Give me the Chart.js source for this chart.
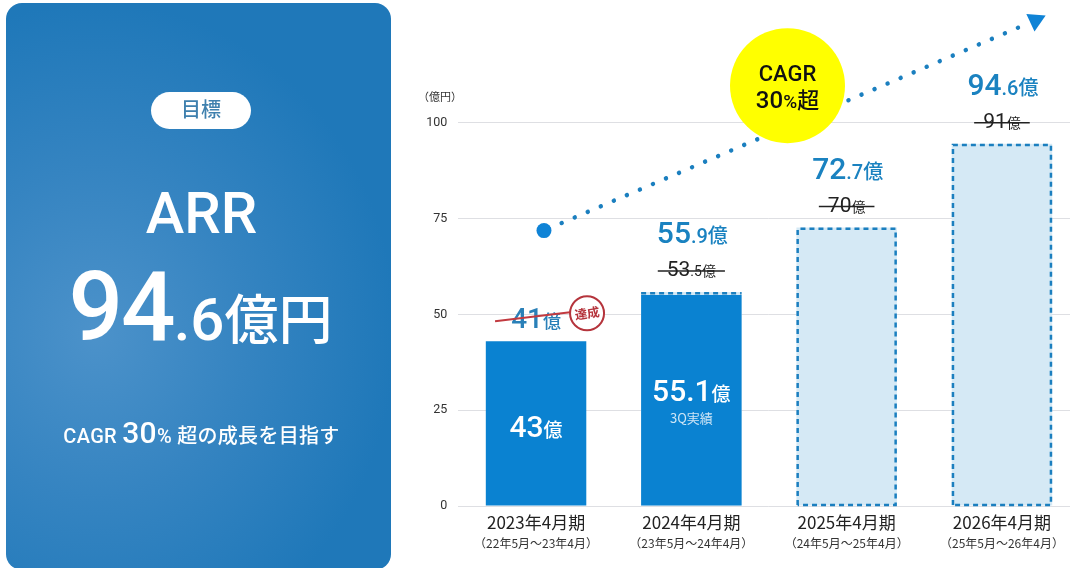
<!DOCTYPE html>
<html lang="ja">
<head>
<meta charset="utf-8">
<title>ARR</title>
<script src="https://cdn.jsdelivr.net/npm/chart.js@4"></script>
<style>
  html, body { margin: 0; padding: 0; background: #fff; width: 1070px; height: 568px; overflow: hidden; }
  body { position: relative; font-family: Roboto, "Noto Sans CJK JP", "Noto Sans", sans-serif; }
  #wrap { position: absolute; left: 0; top: 0; width: 1070px; height: 568px; overflow: hidden; }
  #panel {
    position: absolute; left: 6px; top: 3px; width: 385px; height: 567px; border-radius: 16px;
    background: radial-gradient(ellipse 300px 330px at 90px 330px, #4c92ca 0%, #3584c1 50%, #1f78b9 100%);
    background-color: #1c75b7; color: #fff; text-align: center; z-index: 2;
  }
  #panel div { position: absolute; left: 3px; width: 100%; white-space: nowrap; }
  #pill { left: 145px !important; width: 100px !important; top: 89px; height: 37px; line-height: 36px; border-radius: 19px;
    background: #fff; color: #3f80ae; font-size: 20px; font-weight: 500; }
  #arr { top: 170px; font-size: 58px; line-height: 80px; font-weight: 500; }
  #goal { top: 244px; line-height: 120px; font-size: 54px; font-weight: 500; left: 2px !important; }
  #goal b { font-size: 96px; font-weight: 500; letter-spacing: -2px; }
  #goal i { font-style: normal; font-size: 60px; }
  #note { top: 408px; line-height: 44px; font-size: 20px; font-weight: 500; letter-spacing: .3px; }
  #note b { font-size: 30px; font-weight: 500; }
  canvas { position: absolute; left: 0; top: 0; }
</style>
</head>
<body>
<div id="wrap">
  <div id="panel">
    <div id="pill">目標</div>
    <div id="arr">ARR</div>
    <div id="goal"><b>94</b><i>.6</i>億円</div>
    <div id="note">CAGR <b>30</b>% 超の成長を目指す</div>
  </div>
  <canvas id="chartArr" width="1100" height="568"></canvas>
</div>
<script>
// Fiscal periods and their sub labels
const periods = ["2023年4月期", "2024年4月期", "2025年4月期", "2026年4月期"];
const spans = ["（22年5月～23年4月）", "（23年5月～24年4月）", "（24年5月～25年4月）", "（25年5月～26年4月）"];

// ARR in 億円
const actual = [43, 55.1, null, null];
const target = [null, 55.9, 72.7, 94.6];
const raisedLabels = ["", "55.9", "72.7", "94.6"];
const oldLabels = ["41", "53.5", "70", "91"];
const insideLabels = ["43", "55.1", "", ""];
const yTicks = [0, 25, 50, 75, 100];

// Growth arrow, x in period slots
const trendX = [0.051, 3.116];
const trendY = [71.9, 125.1];
const arrowX = [3.216];
const arrowY = [126.8];

const fontName = 'Roboto, "Noto Sans CJK JP", "Noto Sans", sans-serif';
const cjkFont = '"Noto Sans CJK JP", "Noto Sans", sans-serif';

function drawRuns(ctx, runs, cx, y, color, weight) {
  const w8 = weight || 500;
  ctx.fillStyle = color;
  ctx.textAlign = "left";
  ctx.textBaseline = "alphabetic";
  let w = 0;
  runs.forEach(function (r) {
    ctx.font = w8 + " " + r[1] + "px " + fontName;
    w += ctx.measureText(r[0]).width;
  });
  let x = cx - w / 2;
  runs.forEach(function (r) {
    ctx.font = w8 + " " + r[1] + "px " + fontName;
    ctx.fillText(r[0], x, y);
    x += ctx.measureText(r[0]).width;
  });
  return w;
}

// "55.9" -> big integer part, smaller fraction, unit
function valueRuns(text, big, small) {
  const parts = text.split(".");
  const runs = [[parts[0], big]];
  if (parts[1]) runs.push(["." + parts[1], small]);
  runs.push(["億", small]);
  return runs;
}

const labelPlugin = {
  id: "labelPlugin",
  afterDatasetsDraw(chart) {
    const ctx = chart.ctx;
    const xs = chart.scales.x;
    const ys = chart.scales.y;
    const base = ys.getPixelForValue(0);
    ctx.save();

    // dashed outline of the target bars
    const targetMeta = chart.getDatasetMeta(1);
    ctx.strokeStyle = "#1b7fbf";
    ctx.lineWidth = 2.5;
    ctx.setLineDash([5, 4]);
    targetMeta.data.forEach(function (bar, i) {
      if (target[i] === null) return;
      const half = bar.width / 2;
      ctx.beginPath();
      if (actual[i] === null) {
        ctx.moveTo(bar.x - half + 1.25, base - 1);
        ctx.lineTo(bar.x - half + 1.25, bar.y + 1.25);
        ctx.lineTo(bar.x + half - 1.25, bar.y + 1.25);
        ctx.lineTo(bar.x + half - 1.25, base - 1);
        ctx.lineTo(bar.x - half + 1.25, base - 1);
      } else {
        ctx.moveTo(bar.x - half, bar.y + 1.25);
        ctx.lineTo(bar.x + half, bar.y + 1.25);
      }
      ctx.stroke();
    });
    ctx.setLineDash([]);

    periods.forEach(function (p, i) {
      const cx = xs.getPixelForTick(i);
      const top = ys.getPixelForValue(target[i] !== null ? target[i] : actual[i]);

      if (raisedLabels[i]) {
        drawRuns(ctx, valueRuns(raisedLabels[i], 30, 20), cx + 1, top - 49, "#1a82c0");
      }

      // superseded plan, struck through
      if (i === 0) {
        drawRuns(ctx, valueRuns(oldLabels[i], 28, 18), cx, top - 13, "#2a80b8");
        ctx.strokeStyle = "#c23a40";
        ctx.lineWidth = 2;
        ctx.beginPath();
        ctx.moveTo(cx - 41, top - 20);
        ctx.lineTo(cx + 34, top - 29);
        ctx.stroke();

        ctx.save();
        ctx.translate(cx + 51, top - 28);
        ctx.beginPath();
        ctx.arc(0, 0, 17, 0, Math.PI * 2);
        ctx.fillStyle = "#fff";
        ctx.fill();
        ctx.strokeStyle = "#b5343c";
        ctx.lineWidth = 2;
        ctx.stroke();
        ctx.rotate(-0.15);
        ctx.fillStyle = "#b5343c";
        ctx.font = "700 12.5px " + cjkFont;
        ctx.textAlign = "center";
        ctx.textBaseline = "middle";
        ctx.fillText("達成", 0, 0);
        ctx.restore();
      } else {
        const w = drawRuns(ctx, valueRuns(oldLabels[i], 21, 14), cx, top - 16, "#222", 400);
        ctx.strokeStyle = "#222";
        ctx.lineWidth = 1.5;
        ctx.beginPath();
        ctx.moveTo(cx - w / 2 - 9, top - 21);
        ctx.lineTo(cx + w / 2 + 9, top - 21);
        ctx.stroke();
      }

      if (insideLabels[i]) {
        const runs = [[insideLabels[i], 30], ["億", 19]];
        drawRuns(ctx, runs, cx, i === 0 ? base - 69 : base - 105, "#fff");
      }
      if (i === 1) {
        ctx.font = "400 13px " + cjkFont;
        ctx.fillStyle = "#cfe6f6";
        ctx.textAlign = "center";
        ctx.textBaseline = "middle";
        ctx.fillText("3Q実績", cx, base - 88);
      }

      ctx.font = "400 12px " + cjkFont;
      ctx.fillStyle = "#333";
      ctx.textAlign = "center";
      ctx.textBaseline = "middle";
      ctx.fillText(spans[i], cx, base + 37);
    });

    // unit above the y axis
    ctx.font = "400 11px " + cjkFont;
    ctx.fillStyle = "#333";
    ctx.textAlign = "center";
    ctx.textBaseline = "middle";
    ctx.fillText("（億円）", 440, 97);

    // CAGR badge sits on top of the growth arrow
    ctx.beginPath();
    ctx.arc(787.5, 85.7, 57.5, 0, Math.PI * 2);
    ctx.fillStyle = "#ffff00";
    ctx.fill();
    ctx.fillStyle = "#111";
    ctx.font = "500 22px " + fontName;
    ctx.textAlign = "center";
    ctx.textBaseline = "alphabetic";
    ctx.fillText("CAGR", 787.5, 81);
    drawRuns(ctx, [["30", 24], ["%", 19], ["超", 22]], 787.5, 108, "#111");

    ctx.restore();
  }
};

const myChart = new Chart(document.getElementById("chartArr").getContext("2d"), {
  type: "bar",
  plugins: [labelPlugin],
  data: {
    labels: periods,
    datasets: [
      {
        label: "実績",
        data: actual,
        backgroundColor: "#0a82d1",
        barPercentage: 0.647,
        categoryPercentage: 1,
        grouped: false,
        order: 2
      },
      {
        label: "目標",
        data: target,
        backgroundColor: "#d5e9f5",
        barPercentage: 0.647,
        categoryPercentage: 1,
        grouped: false,
        order: 3
      },
      {
        type: "line",
        label: "CAGR",
        data: trendX.map(function (x, i) { return { x: x, y: trendY[i] }; }),
        xAxisID: "slot",
        borderColor: "#1b7fbf",
        borderWidth: 4.5,
        borderCapStyle: "round",
        borderDash: [0.01, 14.17],
        borderDashOffset: -5.08,
        tension: 0,
        clip: false,
        pointStyle: "circle",
        pointRadius: [7.5, 0],
        pointBorderWidth: 0,
        pointBackgroundColor: "#0f83d6",
        order: 1
      },
      {
        type: "line",
        label: "矢印",
        data: arrowX.map(function (x, i) { return { x: x, y: arrowY[i] }; }),
        xAxisID: "slot",
        showLine: false,
        clip: false,
        pointStyle: "triangle",
        pointRadius: 11.2,
        pointRotation: 185,
        pointBorderWidth: 0,
        pointBackgroundColor: "#0f83d6",
        order: 0
      }
    ]
  },
  options: {
    responsive: false,
    animation: false,
    layout: { padding: { top: 0, right: 20.4, bottom: 0, left: 0 } },
    plugins: { legend: { display: false }, tooltip: { enabled: false } },
    scales: {
      x: {
        grid: { display: false },
        border: { display: false },
        ticks: {
          padding: -2,
          maxRotation: 0,
          autoSkip: false,
          color: "#222",
          font: { family: cjkFont, size: 17 }
        },
        afterFit(axis) { axis.height = 62; }
      },
      slot: { type: "linear", display: false, offset: false, min: -0.5, max: 3.5 },
      y: {
        min: 0,
        max: 127.28,
        afterBuildTicks(axis) { axis.ticks = yTicks.map(function (v) { return { value: v }; }); },
        grid: { color: "#dedfe3", lineWidth: 1, drawTicks: false },
        border: { display: false },
        ticks: {
          padding: 11,
          color: "#333",
          font: { family: fontName, size: 12.5 }
        },
        afterFit(axis) { axis.width = 458.4; }
      }
    }
  }
});
</script>
</body>
</html>
